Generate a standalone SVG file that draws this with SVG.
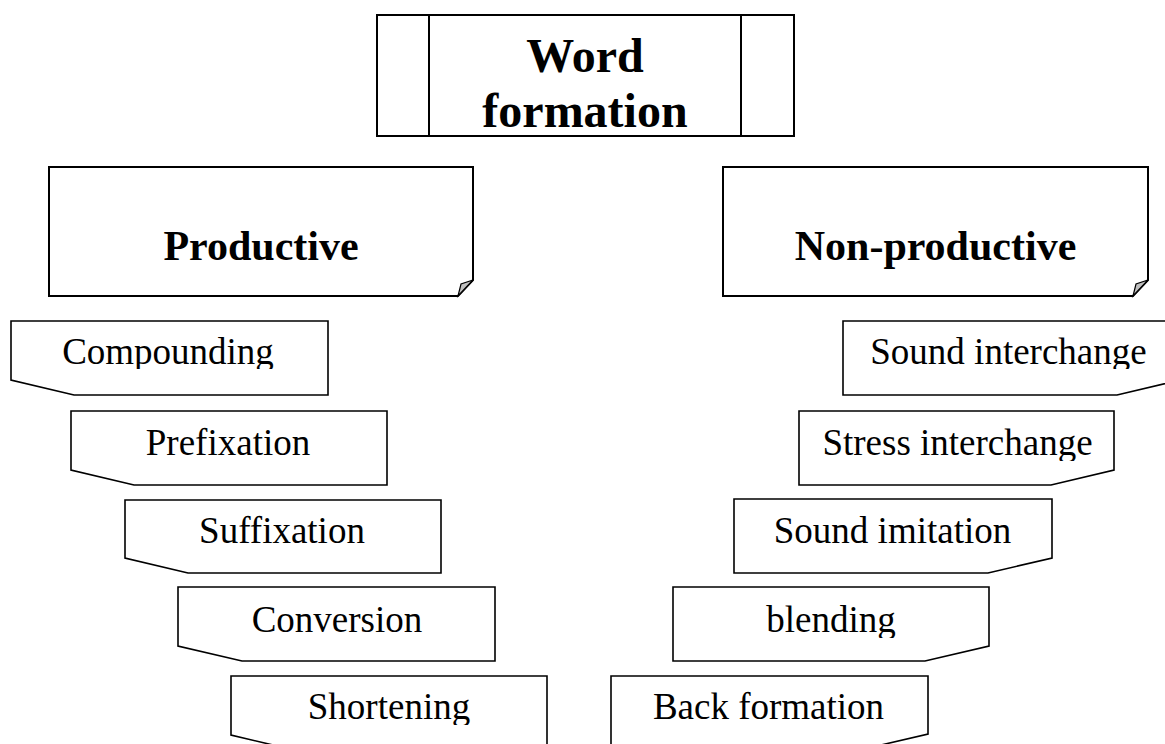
<svg xmlns="http://www.w3.org/2000/svg" width="1165" height="744" viewBox="0 0 1165 744">
<style>
.box{fill:#fff;stroke:#000;stroke-width:2}
.sbox{fill:#fff;stroke:#000;stroke-width:1.6}
.fold{fill:#c0c0c0;stroke:#000;stroke-width:1.2}
.t{font-family:"Liberation Serif","Times New Roman",serif;fill:#000;text-anchor:middle}
.big{font-weight:bold;font-size:48px}
.mid{font-weight:bold;font-size:42px}
.small{font-size:37px}
</style>
<defs>
<clipPath id="c1" clipPathUnits="userSpaceOnUse"><rect x="0" y="321" width="1165" height="48"/></clipPath>
<clipPath id="c2" clipPathUnits="userSpaceOnUse"><rect x="0" y="411" width="1165" height="50"/></clipPath>
<clipPath id="c3" clipPathUnits="userSpaceOnUse"><rect x="0" y="500" width="1165" height="49"/></clipPath>
<clipPath id="c4" clipPathUnits="userSpaceOnUse"><rect x="0" y="587" width="1165" height="51"/></clipPath>
<clipPath id="c5" clipPathUnits="userSpaceOnUse"><rect x="0" y="676" width="1165" height="49"/></clipPath>
</defs>
<rect width="1165" height="744" fill="#fff"/>
<g id="connectors"/>
<g id="word-formation">
<rect class="box" x="377" y="15" width="417" height="121"/>
<line class="box" x1="429" y1="15" x2="429" y2="136"/>
<line class="box" x1="741" y1="15" x2="741" y2="136"/>
<text class="t big" x="585" y="72">Word</text>
<text class="t big" x="585" y="127">formation</text>
</g>
<g id="productive">
<path class="box" d="M49,167 H473 V280 L458,296 H49 Z"/>
<path class="fold" d="M473,280 L458,296 L461,284 Z"/>
<text class="t mid" x="261" y="260">Productive</text>
</g>
<g id="non-productive">
<path class="box" d="M723,167 H1148 V280 L1133,296 H723 Z"/>
<path class="fold" d="M1148,280 L1133,296 L1136,284 Z"/>
<text class="t mid" x="935.5" y="260">Non-productive</text>
</g>
<g id="compounding">
<path class="sbox" d="M11,321 H328 V395 H74 L11,380 Z"/>
<text class="t small" x="168" y="364" clip-path="url(#c1)">Compounding</text>
</g>
<g id="prefixation">
<path class="sbox" d="M71,411 H387 V485 H134 L71,470 Z"/>
<text class="t small" x="228" y="455" clip-path="url(#c2)">Prefixation</text>
</g>
<g id="suffixation">
<path class="sbox" d="M125,500 H441 V573 H188 L125,558 Z"/>
<text class="t small" x="282" y="543" clip-path="url(#c3)">Suffixation</text>
</g>
<g id="conversion">
<path class="sbox" d="M178,587 H495 V661 H242 L178,646 Z"/>
<text class="t small" x="337" y="632" clip-path="url(#c4)">Conversion</text>
</g>
<g id="shortening">
<path class="sbox" d="M231,676 H547 V750 H294 L231,735 Z"/>
<text class="t small" x="389" y="719" clip-path="url(#c5)">Shortening</text>
</g>
<g id="sound-interchange">
<path class="sbox" d="M843,321 H1180 V380 L1117,395 H843 Z"/>
<text class="t small" x="1008.5" y="364" clip-path="url(#c1)">Sound interchange</text>
</g>
<g id="stress-interchange">
<path class="sbox" d="M799,411 H1114 V470 L1051,485 H799 Z"/>
<text class="t small" x="957.5" y="455" clip-path="url(#c2)">Stress interchange</text>
</g>
<g id="sound-imitation">
<path class="sbox" d="M734,499 H1052 V558 L988,573 H734 Z"/>
<text class="t small" x="892.5" y="543" clip-path="url(#c3)">Sound imitation</text>
</g>
<g id="blending">
<path class="sbox" d="M673,587 H989 V646 L925,661 H673 Z"/>
<text class="t small" x="831" y="632" clip-path="url(#c4)">blending</text>
</g>
<g id="back-formation">
<path class="sbox" d="M611,676 H928 V734 L864,749 H611 Z"/>
<text class="t small" x="768.5" y="719" clip-path="url(#c5)">Back formation</text>
</g>
</svg>
